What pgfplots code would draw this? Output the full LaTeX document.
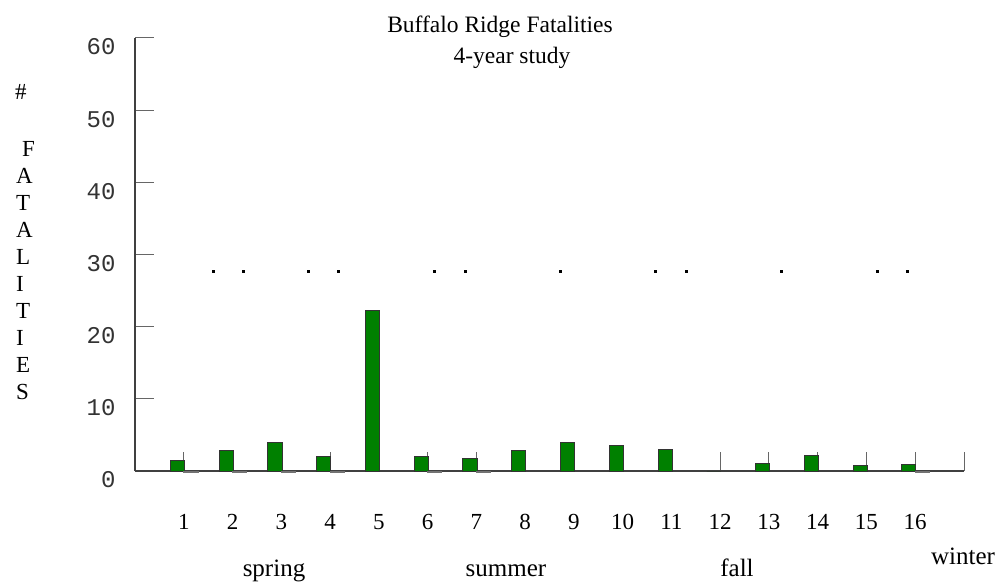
\documentclass[border=0pt]{standalone}
\usepackage{pgfplots}
\pgfplotsset{compat=1.18}
\usepackage{fontspec}
\setmainfont{Liberation Serif}
\newfontfamily\monofont{Liberation Mono}
\definecolor{bargreen}{RGB}{0,128,0}
\begin{document}
\begin{tikzpicture}
\useasboundingbox (0pt,0pt) rectangle (1000pt,586pt);
\begin{axis}[
  scale only axis,
  width=829pt, height=433pt,
  at={(135pt,115pt)}, anchor=south west,
  xmin=0, xmax=17, ymin=0, ymax=60,
  clip=false,
  axis lines*=left,
  axis line style={black!75, line width=1.2pt},
  tick align=inside,
  major tick length=19pt,
  every tick/.style={black!60, line width=1pt},
  /pgf/number format/assume math mode=true,
  xtick={1,...,17},
  xticklabels={1,2,3,4,5,6,7,8,9,10,11,12,13,14,15,16,{}},
  ytick={0,10,...,60},
  xticklabel style={font=\fontsize{23}{27}\selectfont, anchor=center, yshift=-51pt},
  yticklabel style={font=\fontsize{24}{28}\monofont, text=black!80, anchor=east, xshift=-16pt, yshift=-9pt},
]
\addplot[ybar, bar width=0.29, bar shift=-0.13, fill=bargreen, draw=black!80, line width=1pt]
  coordinates {(1,1.4) (2,2.8) (3,4.0) (4,2.0) (5,22.2) (6,2.0) (7,1.8) (8,2.8)
               (9,4.0) (10,3.6) (11,3.0) (12,0) (13,1.1) (14,2.2) (15,0.7) (16,0.9)};
\addplot[ybar, bar width=0.29, bar shift=0.145, fill=gray!60, draw=gray!90!black, line width=0.8pt]
  coordinates {(1,-0.15) (2,-0.15) (3,-0.15) (4,-0.15) (6,-0.15) (7,-0.15) (16,-0.15)};
\addplot[only marks, mark=square*, mark size=1.1pt, black]
  coordinates {(1.600,27.7) (2.215,27.7) (3.548,27.7) (4.163,27.7) (6.131,27.7) (6.767,27.7)
               (8.715,27.7) (10.663,27.7) (11.299,27.7) (13.247,27.7) (15.216,27.7) (15.831,27.7)};
\end{axis}
% titles
\node[anchor=base, font=\fontsize{23.5}{28}\selectfont] at (500pt,553.3pt) {Buffalo Ridge Fatalities};
\node[anchor=base, font=\fontsize{23.5}{28}\selectfont] at (512pt,522.7pt) {4-year study};
% season labels
\node[anchor=base, font=\fontsize{25}{30}\selectfont] at (274pt,10pt) {spring};
\node[anchor=base, font=\fontsize{25}{30}\selectfont] at (506pt,10pt) {summer};
\node[anchor=base, font=\fontsize{25}{30}\selectfont] at (737pt,10pt) {fall};
\node[anchor=base, font=\fontsize{25}{30}\selectfont] at (963pt,22pt) {winter};
% vertical y label
\node[anchor=base west, inner sep=0pt, font=\fontsize{23}{27}\selectfont] at (15pt,486pt) {\#};
\foreach \L [count=\i from 0] in {F,A,T,A,L,I,T,I,E,S}{
  \pgfmathsetmacro{\yy}{586-157-27*\i}
  \pgfmathsetmacro{\xx}{ifthenelse(\i==0,22,16)}
  \node[anchor=base west, inner sep=0pt, font=\fontsize{23}{27}\selectfont] at (\xx pt,\yy pt) {\L};
}
\end{tikzpicture}
\end{document}
